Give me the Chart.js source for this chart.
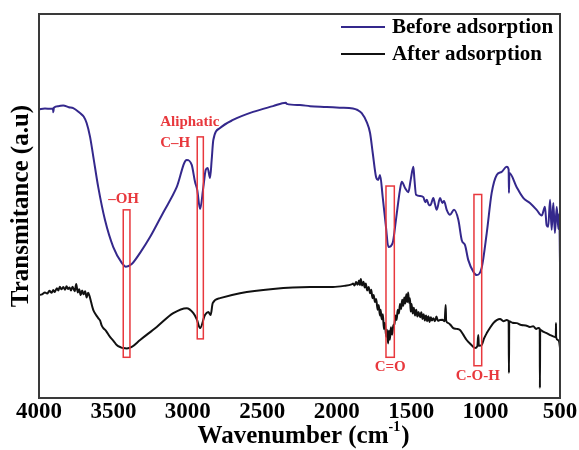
<!DOCTYPE html>
<html>
    <head>
        <meta charset="utf-8">
        <title>FTIR spectra</title>
        <script src="https://cdn.jsdelivr.net/npm/chart.js@4.4.1/dist/chart.umd.min.js"></script>
        <style>
            body { margin: 0; background: #fff; }
        </style>
    </head>
    <body>
        <canvas id="chart" width="579" height="450"></canvas>
        <script>
            // series names
            const seriesNames = ["Before adsorption", "After adsorption"];

            // before adsorption: wavenumber (cm-1) and transmittance (a.u)
            const beforeWn = [4000,3960,3920,3906,3904,3900,3870,3837,3800,3770,3725,3700,3680,3657,3635,3602,3557,3501,3444,3416,
                3377,3321,3254,3167,3075,3008,2974,2952,2937,2918,2896,2880,2867,2851,2840,2829,2784,2697,2562,2428,
                2342,2336,2247,2179,2067,1980,1891,1860,1832,1799,1776,1758,1736,1721,1709,1691,1669,1653,1624,1602,
                1575,1563,1541,1519,1503,1485,1478,1467,1440,1418,1405,1395,1380,1369,1351,1340,1328,1306,1290,1279,
                1261,1239,1212,1183,1160,1138,1116,1082,1060,1026,992,959,925,892,858,845,843,840,791,747,
                702,657,623,601,590,579,567,556,545,534,522,511,505,500];
            const beforeT = [75.2,75.4,75.3,75.4,74.4,75.6,76.0,76.2,75.7,75.5,74.2,73.3,71.6,68.0,62.8,54.9,46.4,39.3,35.2,34.2,
                34.9,37.8,41.9,48.2,54.9,62.0,60.7,56.3,54.2,49.2,54.9,59.4,59.9,57.3,62.0,67.2,70.3,72.4,74.5,76.0,
                76.9,76.6,76.3,76.0,75.8,75.6,75.4,75.0,74.2,71.9,69.0,63.8,57.6,56.8,58.1,52.3,44.5,39.3,40.4,46.4,
                54.2,56.3,54.7,53.6,56.8,60.2,57.0,52.9,52.6,52.3,51.0,51.6,50.2,50.3,52.1,50.5,49.0,52.1,50.8,51.3,
                49.0,47.7,49.0,46.4,41.1,39.8,35.9,32.9,32.0,33.9,43.0,53.4,58.1,58.9,60.2,59.5,53.4,58.6,54.9,52.1,
                50.8,49.0,47.5,49.8,45.0,44.6,51.6,43.8,50.8,43.0,49.8,44.0,48.0,35.2];

            // after adsorption: wavenumber (cm-1) and transmittance (a.u)
            const afterWn = [4000,3980,3960,3945,3930,3915,3904,3895,3880,3870,3860,3850,3837,3825,3815,3805,3795,3785,3775,3760,
                3750,3740,3730,3720,3710,3700,3690,3680,3670,3660,3650,3640,3635,3620,3602,3590,3580,3568,3550,3523,
                3500,3478,3450,3434,3410,3377,3321,3209,3098,3008,2963,2940,2918,2885,2863,2847,2833,2784,2650,2428,
                2179,2025,1950,1900,1890,1880,1870,1860,1850,1845,1838,1830,1820,1812,1805,1795,1785,1776,1768,1760,
                1752,1743,1735,1725,1718,1710,1705,1698,1690,1683,1676,1668,1662,1655,1650,1643,1636,1628,1620,1612,
                1605,1598,1590,1582,1575,1568,1560,1553,1546,1540,1532,1526,1520,1514,1508,1503,1497,1490,1482,1474,
                1466,1458,1450,1440,1432,1424,1416,1408,1400,1392,1384,1376,1368,1360,1351,1340,1330,1320,1306,1290,
                1275,1268,1265,1250,1235,1217,1195,1172,1150,1127,1100,1071,1055,1049,1045,1026,1010,992,970,948,
                925,903,880,858,845,843,841,820,791,760,730,702,680,660,646,636,635,633,610,590,
                560,534,528,527,526,514,505,500];
            const afterT = [26.8,27.0,27.5,27.2,27.9,27.4,28.1,27.6,28.6,28.0,29.0,28.3,28.9,28.2,29.1,28.4,28.8,28.0,29.0,27.8,
                29.7,27.5,28.3,26.8,28.0,27.0,27.8,26.2,27.4,26.5,25.0,23.5,22.9,21.8,20.8,20.2,19.0,18.2,17.5,15.9,
                14.9,13.8,13.2,13.0,12.9,13.3,15.1,18.5,22.1,23.4,22.1,20.5,18.2,21.6,22.4,21.6,24.7,26.0,27.3,28.4,
                28.9,28.9,29.2,29.6,29.8,29.3,30.2,29.5,30.6,29.4,31.0,29.3,30.3,28.8,29.8,28.0,28.9,27.3,28.2,26.0,
                26.8,25.0,25.8,23.0,24.2,21.5,23.0,20.5,21.8,18.0,19.5,16.0,17.8,14.2,17.5,15.2,18.4,16.5,18.8,19.3,
                21.5,20.3,23.0,22.0,24.5,23.2,25.6,24.0,26.2,24.6,27.0,25.0,27.5,24.8,26.0,22.5,24.5,22.0,23.5,21.5,
                23.0,21.2,22.4,21.0,22.3,20.6,21.8,20.2,21.5,20.0,21.3,19.8,21.0,20.2,20.8,20.0,21.2,20.1,20.3,20.4,
                20.0,24.2,20.2,19.5,19.0,18.2,18.0,17.7,16.5,15.1,14.0,13.0,13.5,16.4,13.6,13.8,15.5,16.9,18.3,19.5,
                20.3,20.6,20.0,20.3,20.0,6.5,20.0,19.6,19.5,19.0,18.9,18.5,18.7,18.0,18.2,18.0,2.6,17.8,17.2,16.9,
                16.3,15.9,16.0,19.5,15.8,15.1,14.5,13.0];

            // x axis ticks
            const xTicks = [4000, 3500, 3000, 2500, 2000, 1500, 1000, 500];

            // marked absorption bands: label, wavenumber range, transmittance range
            const bandLabels = ["\u2013OH", "Aliphatic\nC\u2013H", "C=O", "C-O-H"];
            const bandFrom = [3434, 2937, 1669, 1078];
            const bandTo = [3389, 2896, 1613, 1026];
            const bandTop = [49.0, 68.0, 55.2, 53.0];
            const bandBottom = [10.6, 15.4, 10.6, 8.4];

            const SERIF = '"Liberation Serif", "Times New Roman", serif';
            const RED = "#e8383d";
            const colors = ["#34288c", "#111111"];

            // turn the arrays into {x, y} points
            function toPoints(wn, t) {
                return wn.map((w, i) => ({ x: w, y: t[i] }));
            }

            // draws the red bands, frame, legend and x title
            const decorations = {
                id: "decorations",
                afterDatasetsDraw(chart) {
                    const { ctx, scales: { x, y } } = chart;
                    ctx.save();
                    ctx.strokeStyle = RED;
                    ctx.lineWidth = 1.5;
                    ctx.fillStyle = RED;
                    ctx.font = "bold 15px " + SERIF;
                    for (let i = 0; i < bandLabels.length; i++) {
                        const x1 = x.getPixelForValue(bandFrom[i]);
                        const x2 = x.getPixelForValue(bandTo[i]);
                        const y1 = y.getPixelForValue(bandTop[i]);
                        const y2 = y.getPixelForValue(bandBottom[i]);
                        ctx.strokeRect(x1, y1, x2 - x1, y2 - y1);
                        const cx = (x1 + x2) / 2;
                        if (i === 0) {
                            ctx.textAlign = "center";
                            ctx.fillText(bandLabels[i], cx - 3, y1 - 7);
                        } else if (i === 1) {
                            const lines = bandLabels[i].split("\n");
                            ctx.textAlign = "left";
                            ctx.fillText(lines[0], x1 - 37, y1 - 11);
                            ctx.fillText(lines[1], x1 - 37, y1 + 10);
                        } else {
                            ctx.textAlign = "center";
                            ctx.fillText(bandLabels[i], cx, y2 + 14);
                        }
                    }
                    ctx.restore();
                },
                afterDraw(chart) {
                    const { ctx, chartArea } = chart;
                    ctx.save();
                    // frame around the plot
                    ctx.strokeStyle = "#3a3a3a";
                    ctx.lineWidth = 2;
                    ctx.strokeRect(chartArea.left, chartArea.top, chartArea.right - chartArea.left, chartArea.bottom - chartArea.top);

                    // legend
                    ctx.font = "bold 21px " + SERIF;
                    ctx.textAlign = "left";
                    ctx.textBaseline = "alphabetic";
                    chart.data.datasets.forEach((ds, i) => {
                        const ly = chartArea.top + 13 + i * 27;
                        ctx.strokeStyle = ds.borderColor;
                        ctx.lineWidth = 2;
                        ctx.beginPath();
                        ctx.moveTo(chartArea.right - 219, ly);
                        ctx.lineTo(chartArea.right - 175, ly);
                        ctx.stroke();
                        ctx.fillStyle = "#000";
                        ctx.fillText(ds.label, chartArea.right - 168, ly + 6);
                    });

                    // x axis title with superscript
                    const main = "Wavenumber (cm";
                    const sup = "-1";
                    const close = ")";
                    ctx.font = "bold 25px " + SERIF;
                    const wMain = ctx.measureText(main).width;
                    const wClose = ctx.measureText(close).width;
                    ctx.font = "bold 14px " + SERIF;
                    const wSup = ctx.measureText(sup).width;
                    let tx = (chartArea.left + chartArea.right) / 2 + 4 - (wMain + wSup + wClose + 1) / 2;
                    const ty = chartArea.bottom + 45;
                    ctx.fillStyle = "#000";
                    ctx.font = "bold 25px " + SERIF;
                    ctx.fillText(main, tx, ty);
                    tx += wMain;
                    ctx.font = "bold 14px " + SERIF;
                    ctx.fillText(sup, tx, ty - 12);
                    tx += wSup + 1;
                    ctx.font = "bold 25px " + SERIF;
                    ctx.fillText(close, tx, ty);
                    ctx.restore();
                }
            };

            const data = {
                datasets: [
                    { label: seriesNames[0], data: toPoints(beforeWn, beforeT), borderColor: colors[0] },
                    { label: seriesNames[1], data: toPoints(afterWn, afterT), borderColor: colors[1] }
                ]
            };

            const config = {
                type: "line",
                data: data,
                options: {
                    responsive: false,
                    animation: false,
                    datasets: { line: { borderWidth: 2, pointRadius: 0, cubicInterpolationMode: "monotone" } },
                    layout: { padding: { top: 14, right: 19, left: 0, bottom: 0 } },
                    plugins: { legend: { display: false }, tooltip: { enabled: false } },
                    scales: {
                        x: {
                            type: "linear",
                            reverse: true,
                            min: 500,
                            max: 4000,
                            afterBuildTicks: (s) => { s.ticks = xTicks.map(v => ({ value: v })); },
                            ticks: {
                                maxRotation: 0,
                                autoSkip: false,
                                padding: 0,
                                color: "#000",
                                font: { family: SERIF, size: 23, weight: "bold" },
                                callback: (v) => String(v)
                            },
                            grid: { display: false, drawTicks: false },
                            border: { display: false },
                            afterFit: (s) => { s.height = 52; }
                        },
                        y: {
                            min: 0,
                            max: 100,
                            ticks: { display: false },
                            grid: { display: false, drawTicks: false },
                            border: { display: false },
                            title: {
                                display: true,
                                text: "Transmitance (a.u)",
                                color: "#000",
                                font: { family: SERIF, size: 25, weight: "bold" },
                                padding: { top: 7, bottom: 0 }
                            },
                            afterFit: (s) => { s.width = 39; }
                        }
                    }
                },
                plugins: [decorations]
            };

            new Chart(document.getElementById("chart"), config);
        </script>
    </body>
</html>
